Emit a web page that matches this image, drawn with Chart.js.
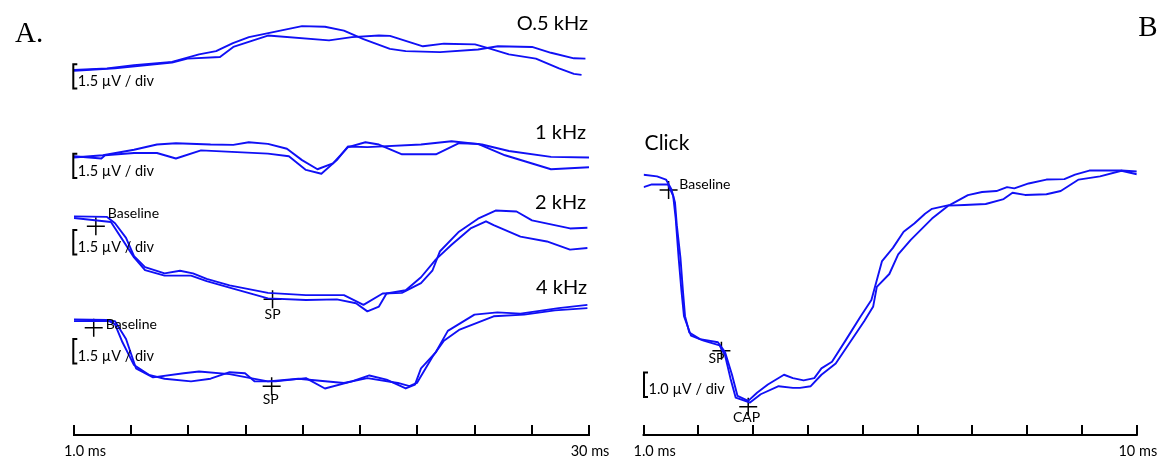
<!DOCTYPE html>
<html>
<head>
<meta charset="utf-8">
<script src="https://cdn.jsdelivr.net/npm/chart.js@4.4.1/dist/chart.umd.min.js"></script>
<style>
html,body{margin:0;padding:0;background:#fff;}
#wrap{position:relative;width:1160px;height:460px;overflow:hidden;}
#cvA{position:absolute;left:0;top:0;}
#cvB{position:absolute;left:600px;top:0;}
</style>
</head>
<body>
<div id="wrap">
<canvas id="cvA" width="625" height="460"></canvas>
<canvas id="cvB" width="560" height="460"></canvas>
</div>
<script>
// DATA: time in ms, amplitude in µV (relative to each trace's own baseline)
// panel A, tone bursts, two recordings per frequency
const namesA = ['O.5 kHz', '1 kHz', '2 kHz', '4 kHz'];

const k05a = [[1.0,0],[2.86,0.10],[4.38,0.30],[6.52,0.50],[8.04,0.96],[9.0,1.16],[9.95,1.66],[10.85,2.02],[12.35,2.36],[13.84,2.70],[15.13,2.66],[16.2,2.42],[17.3,1.90],[18.79,1.30],[19.68,1.16],[21.61,1.10],[23.75,1.26],[24.87,1.46],[26.79,1.42],[27.86,1.06],[29.15,0.72],[29.8,0.70]];
const k05b = [[1.0,-0.04],[3.31,0.10],[6.52,0.46],[7.39,0.70],[9.22,0.80],[9.97,1.42],[11.92,2.12],[15.36,1.82],[16.65,2.02],[18.17,2.12],[18.79,2.10],[20.65,1.46],[21.83,1.62],[23.58,1.58],[24.42,1.32],[25.49,0.96],[27.01,0.70],[28.31,0.10],[29.15,-0.24],[29.58,-0.30]];

const k1a = [[1.0,-0.04],[2.63,0.10],[4.38,0.44],[5.67,0.76],[6.74,0.84],[8.69,0.76],[9.97,0.74],[10.84,0.90],[11.92,0.80],[12.99,0.50],[13.84,-0.20],[14.71,-0.76],[15.58,-0.40],[16.43,0.60],[17.41,0.90],[18.17,0.76],[19.47,0.16],[21.38,0.16],[22.68,0.84],[23.75,0.80],[25.27,0.10],[27.86,-0.76],[30.0,-0.64]];
const k1b = [[1.0,0.04],[2.54,-0.10],[2.75,0.10],[4.38,0.24],[5.67,0.24],[6.74,-0.10],[8.15,0.40],[11.92,0.20],[13.1,0.04],[14.06,-0.80],[14.93,-1.04],[15.8,-0.20],[16.43,0.64],[17.52,0.60],[20.54,0.76],[22.26,0.96],[23.97,0.76],[25.49,0.36],[27.86,0],[30.0,-0.04]];

const k2a = [[1.0,0.06],[2.86,0.03],[3.31,-0.36],[3.93,-1.26],[4.38,-2.38],[5.0,-3.06],[6.1,-3.44],[6.97,-3.28],[7.70,-3.44],[8.47,-3.78],[9.76,-4.18],[11.92,-4.64],[14.06,-4.78],[16.2,-4.78],[17.3,-5.38],[18.38,-4.68],[19.46,-4.64],[20.54,-4.04],[21.18,-3.28],[21.61,-2.08],[22.68,-0.88],[23.75,-0.08],[24.74,0.42],[25.92,0.36],[26.79,-0.18],[28.93,-0.68],[29.91,-0.64]];
const k2b = [[1.0,-0.04],[3.08,-0.28],[4.38,-2.46],[5.0,-3.24],[6.1,-3.58],[7.59,-3.58],[8.47,-3.92],[9.76,-4.32],[11.92,-4.98],[14.06,-5.08],[15.8,-5.04],[16.88,-5.28],[17.52,-5.78],[18.17,-5.48],[18.6,-4.68],[19.68,-4.48],[20.54,-3.68],[21.38,-2.58],[22.26,-1.68],[23.33,-0.68],[24.2,-0.24],[24.63,-0.48],[26.14,-1.18],[27.63,-1.48],[28.93,-1.98],[29.91,-1.88]];

const k4a = [[1.0,0.08],[2.86,0.06],[3.31,-0.22],[3.73,-1.32],[4.38,-2.72],[5.22,-3.32],[6.1,-3.56],[7.59,-3.72],[8.69,-3.56],[9.76,-3.16],[10.63,-3.22],[11.16,-3.72],[12.35,-3.72],[14.06,-3.52],[15.13,-4.16],[16.65,-3.72],[17.63,-3.36],[18.6,-3.62],[19.68,-4.16],[20.2,-3.92],[20.54,-2.92],[21.38,-1.92],[22.05,-0.62],[23.55,0.38],[24.84,0.52],[26.14,0.44],[28.29,0.78],[29.91,0.98]];
const k4b = [[1.0,-0.02],[2.86,0],[3.31,-0.02],[3.93,-1.12],[4.49,-2.92],[5.45,-3.48],[7.18,-3.22],[8.04,-3.12],[9.76,-3.28],[11.92,-3.72],[13.64,-3.56],[16.2,-3.82],[17.52,-3.52],[19.24,-3.82],[19.89,-4.02],[20.31,-3.82],[21.18,-2.22],[21.83,-1.22],[22.68,-0.56],[24.63,0.28],[26.35,0.38],[28.08,0.64],[29.91,0.78]];

// markers: [label, trace index, time ms, µV]
const marksA = [['Baseline',2,2.23,-0.54],['SP',2,12.18,-5.04],['Baseline',3,2.11,-0.42],['SP',3,12.13,-4.02]];

// panel B, click
const namesB = ['Click'];
const clickA = [[1.0,0.39],[1.245,0.32],[1.409,0.19],[1.507,-0.21],[1.573,-0.75],[1.606,-1.68],[1.672,-3.01],[1.717,-4.35],[1.756,-5.41],[1.834,-6.08],[2.029,-6.35],[2.356,-6.48],[2.486,-6.88],[2.613,-7.81],[2.714,-8.68],[2.909,-8.88],[3.07,-8.55],[3.268,-8.21],[3.562,-7.81],[3.725,-7.95],[3.92,-8.04],[4.115,-7.95],[4.245,-7.55],[4.438,-7.28],[4.701,-6.35],[4.962,-5.41],[5.157,-4.75],[5.351,-3.15],[5.55,-2.61],[5.745,-1.95],[5.94,-1.61],[6.136,-1.21],[6.263,-1.01],[6.592,-0.85],[6.918,-0.45],[7.176,-0.32],[7.439,-0.28],[7.632,-0.12],[7.765,-0.17],[8.026,0.03],[8.351,0.19],[8.678,0.21],[8.873,0.39],[9.134,0.56],[9.72,0.56],[10.0,0.52]];
const clickB = [[1.0,-0.12],[1.15,-0.01],[1.443,-0.01],[1.54,-0.48],[1.586,-1.41],[1.639,-3.01],[1.69,-4.35],[1.737,-5.41],[1.865,-6.21],[2.095,-6.41],[2.387,-6.61],[2.486,-7.01],[2.584,-7.95],[2.681,-8.75],[2.942,-8.95],[3.137,-8.61],[3.464,-8.28],[3.725,-8.35],[3.854,-8.35],[4.05,-8.28],[4.245,-7.81],[4.506,-7.35],[4.767,-6.48],[5.028,-5.61],[5.19,-5.01],[5.256,-4.21],[5.484,-3.68],[5.646,-2.88],[5.875,-2.28],[6.263,-1.41],[6.559,-0.88],[6.853,-0.85],[7.243,-0.81],[7.57,-0.61],[7.732,-0.35],[7.96,-0.44],[8.351,-0.41],[8.612,-0.28],[8.939,0.19],[9.329,0.32],[9.72,0.55],[10.0,0.41]];
const marksB = [['Baseline',0,1.456,-0.24],['SP',0,2.42,-6.83],['CAP',0,2.909,-9.12]];

// axis ticks
const ticksA = [1, 4.222, 7.444, 10.667, 13.889, 17.111, 20.333, 23.556, 26.778, 30];
const tickLabelsA = ['1.0 ms', '', '', '', '', '', '', '', '', '30 ms'];
const ticksB = [1, 2, 3, 4, 5, 6, 7, 8, 9, 10];
const tickLabelsB = ['1.0 ms', '', '', '', '', '', '', '', '', '10 ms'];

const scaleTextA = '1.5 µV / div';
const scaleTextB = '1.0 µV / div';

// LAYOUT (not data)
const SANS = 'Lato, "Open Sans", sans-serif';
const SERIF = '"Liberation Serif", "DejaVu Serif", serif';
const BLUE = '#1010f5';

const panelA = {
  pad: {left: 74, right: 36, top: 0, bottom: 25},
  ymax: 26.1,
  offs: [22.44, 17.1, 13.38, 7.02],
  traces: [[k05a, k05b], [k1a, k1b], [k2a, k2b], [k4a, k4b]],
  names: namesA,
  nameAt: [[588, 30], [586, 139], [586, 208.5], [587, 293.5]],
  nameSize: 20,
  letter: ['A.', 15, 42, 'left'],
  div: 1.5, divText: scaleTextA,
  bracketX: 73.3, bracketTop: [0.36, 0.2, -0.78, -1.12],
  marks: marksA,
  markText: [[12, -7.7, 'left'], [0, 19.5, 'center'], [12, 1, 'left'], [-1, 17.7, 'center']],
  ticks: ticksA, tickLabels: tickLabelsA
};

const panelB = {
  pad: {left: 43.6, right: 23.2, top: 0, bottom: 25},
  ymax: 17.4,
  offs: [10.28],
  traces: [[clickA, clickB]],
  names: namesB,
  nameAt: [[44.6, 150]],
  nameSize: 21, nameAlign: 'left',
  letter: ['B', 538.3, 35.7, 'left'],
  div: 1.0, divText: scaleTextB,
  bracketX: 44, bracketTop: [-7.72],
  marks: marksB,
  markText: [[10.7, -0.7, 'left'], [-5, 12, 'center'], [-1.6, 15, 'center']],
  ticks: ticksB, tickLabels: tickLabelsB
};

const annot = {
  id: 'annot',
  afterDraw(chart, args, p) {
    const ctx = chart.ctx, xs = chart.scales.x, ys = chart.scales.y;
    const yb = chart.chartArea.bottom;
    ctx.save();
    ctx.fillStyle = '#000';
    ctx.strokeStyle = '#000';
    ctx.textBaseline = 'alphabetic';

    // time axis
    const x0 = xs.getPixelForValue(p.ticks[0]);
    const x1 = xs.getPixelForValue(p.ticks[p.ticks.length - 1]);
    ctx.lineWidth = 2;
    ctx.beginPath();
    ctx.moveTo(x0 - 1, yb); ctx.lineTo(x1 + 1, yb);
    p.ticks.forEach(v => {
      const px = Math.round(xs.getPixelForValue(v));
      ctx.moveTo(px, yb - 10); ctx.lineTo(px, yb);
    });
    ctx.stroke();
    ctx.font = '14.5px ' + SANS;
    ctx.textAlign = 'center';
    p.ticks.forEach((v, i) => {
      if (!p.tickLabels[i]) return;
      const px = xs.getPixelForValue(v) + (i === 0 ? 11 : 1);
      ctx.fillText(p.tickLabels[i], px, 455.5);
    });

    // panel letter
    ctx.font = '29px ' + SERIF;
    ctx.textAlign = p.letter[3];
    ctx.fillText(p.letter[0], p.letter[1], p.letter[2]);

    // trace names
    ctx.font = p.nameSize + 'px ' + SANS;
    ctx.textAlign = p.nameAlign || 'right';
    p.names.forEach((n, i) => ctx.fillText(n, p.nameAt[i][0], p.nameAt[i][1]));

    // scale bars
    ctx.lineWidth = 2;
    ctx.font = '14.5px ' + SANS;
    ctx.textAlign = 'left';
    p.bracketTop.forEach((t, i) => {
      const yt = ys.getPixelForValue(p.offs[i] + t);
      const ybt = ys.getPixelForValue(p.offs[i] + t - p.div);
      const bx = p.bracketX;
      ctx.beginPath();
      ctx.moveTo(bx + 4, yt); ctx.lineTo(bx, yt); ctx.lineTo(bx, ybt); ctx.lineTo(bx + 4, ybt);
      ctx.stroke();
      ctx.fillText(p.divText, bx + 4.5, ybt - 2.5);
    });

    // marker labels
    ctx.font = '14px ' + SANS;
    p.marks.forEach((m, i) => {
      const px = xs.getPixelForValue(m[2]);
      const py = ys.getPixelForValue(p.offs[m[1]] + m[3]);
      const o = p.markText[i];
      ctx.textAlign = o[2];
      ctx.fillText(m[0], px + o[0], py + o[1]);
    });
    ctx.restore();
  }
};

function makeChart(id, p) {
  const datasets = [];
  p.traces.forEach((pair, i) => {
    pair.forEach(tr => {
      datasets.push({
        data: tr.map(q => ({x: q[0], y: q[1] + p.offs[i]})),
        borderColor: BLUE,
        borderWidth: 1.9,
        pointRadius: 0,
        tension: 0,
        borderJoinStyle: 'round',
        fill: false
      });
    });
  });
  datasets.push({
    data: p.marks.map(m => ({x: m[2], y: m[3] + p.offs[m[1]]})),
    showLine: false,
    pointStyle: 'cross',
    pointRadius: 9,
    pointBorderColor: '#000',
    pointBorderWidth: 1.5
  });
  return new Chart(document.getElementById(id), {
    type: 'line',
    data: {datasets: datasets},
    options: {
      responsive: false,
      animation: false,
      events: [],
      layout: {padding: p.pad},
      scales: {
        x: {type: 'linear', display: false, min: p.ticks[0], max: p.ticks[p.ticks.length - 1]},
        y: {type: 'linear', display: false, min: 0, max: p.ymax}
      },
      plugins: {legend: {display: false}, tooltip: {enabled: false}, annot: p}
    },
    plugins: [annot]
  });
}

makeChart('cvA', panelA);
makeChart('cvB', panelB);
</script>
</body>
</html>
